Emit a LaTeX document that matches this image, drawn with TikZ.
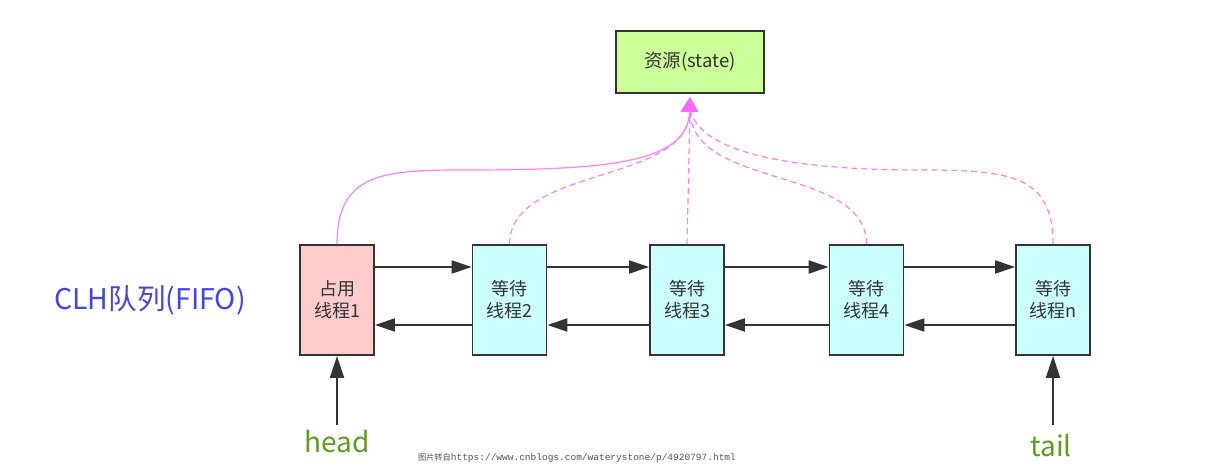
\documentclass[tikz,border=0pt]{standalone}
\usepackage{fontspec}
\setmainfont{Noto Sans CJK SC}
\newfontfamily\urlmono{Liberation Mono}
\usetikzlibrary{arrows.meta}
\definecolor{edgegray}{HTML}{333333}
\definecolor{resfill}{HTML}{CCFF99}
\definecolor{busyfill}{HTML}{FFCCCC}
\definecolor{waitfill}{HTML}{CCFFFF}
\definecolor{linkpink}{HTML}{FF80FF}
\definecolor{tippink}{HTML}{FF66FF}
\definecolor{labgreen}{HTML}{5A9E1A}
\definecolor{clhblue}{HTML}{4444EE}
\tikzset{
  thread/.style={draw=edgegray, line width=1.8pt, minimum width=74pt, minimum height=110pt, inner sep=0pt, align=center, font=\fontsize{18}{22}\selectfont, text=edgegray},
  resbox/.style={draw=edgegray, line width=2pt, fill=resfill, minimum width=148pt, minimum height=62pt, inner sep=0pt, font=\fontsize{18.5}{22}\selectfont, text=edgegray},
  link/.style={draw=edgegray, line width=2pt, -{Triangle[length=20pt,width=13pt]}},
  ptr/.style={draw=edgegray, line width=2pt, -{Triangle[length=22pt,width=14pt]}},
  use/.style={draw=linkpink, line width=1.2pt},
  wait/.style={draw=linkpink, line width=1.2pt, dash pattern=on 6pt off 4pt},
  lab/.style={text=labgreen, font=\fontsize{28}{32}\selectfont}
}
\begin{document}
\begin{tikzpicture}[x=1pt,y=-1pt]
\useasboundingbox (0,0) rectangle (1223,465);
\node[resbox] (res) at (690,62) {资源(state)};
\coordinate (tip) at (690,97);
\coordinate (tipb) at (690,110);
\node[thread, fill=busyfill] (t1) at (337,300) {占用\\线程1};
\node[thread, fill=waitfill] (t2) at (509.5,300) {等待\\线程2};
\node[thread, fill=waitfill] (t3) at (687,300) {等待\\线程3};
\node[thread, fill=waitfill] (t4) at (866.5,300) {等待\\线程4};
\node[thread, fill=waitfill] (tn) at (1053,300) {等待\\线程n};
% links forward/backward
\foreach \a/\b in {t1/t2,t2/t3,t3/t4,t4/tn}{
  \draw[link] (\a.east |- 0,267) -- (\b.west |- 0,267);
  \draw[link] (\b.west |- 0,325) -- (\a.east |- 0,325);
}
% resource links
\draw[wait] (t2.north) .. controls (510,165) and (690,185) .. (tipb);
\draw[wait] (t3.north) -- (tipb);
\draw[wait] (t4.north) .. controls (866,165) and (690,190) .. (tipb);
\draw[wait] (tn.north) .. controls (1053,175) and (1010,170) .. (920,170) .. controls (780,170) and (700,150) .. (tipb);
\draw[use, -{Triangle[length=15pt,width=18pt,color=tippink]}] (t1.north) .. controls (337,175) and (380,170) .. (460,170) .. controls (600,170) and (688,165) .. (tip);
% labels
\node[text=clhblue, font=\fontsize{28.5}{32}\selectfont] (clh) at (150,300) {CLH队列(FIFO)};
\node[lab] (head) at (337,442) {head};
\node[lab] (tail) at (1051,446) {tail};
\draw[ptr] (t1.south |- 0,425) -- (t1.south);
\draw[ptr] (tn.south |- 0,425) -- (tn.south);
\node[text=edgegray!85, font=\fontsize{8.2}{9}\selectfont] (src) at (577,458) {图片转自{\urlmono\fontsize{9.5}{10}\selectfont https://www.cnblogs.com/waterystone/p/4920797.html}};
\end{tikzpicture}
\end{document}
